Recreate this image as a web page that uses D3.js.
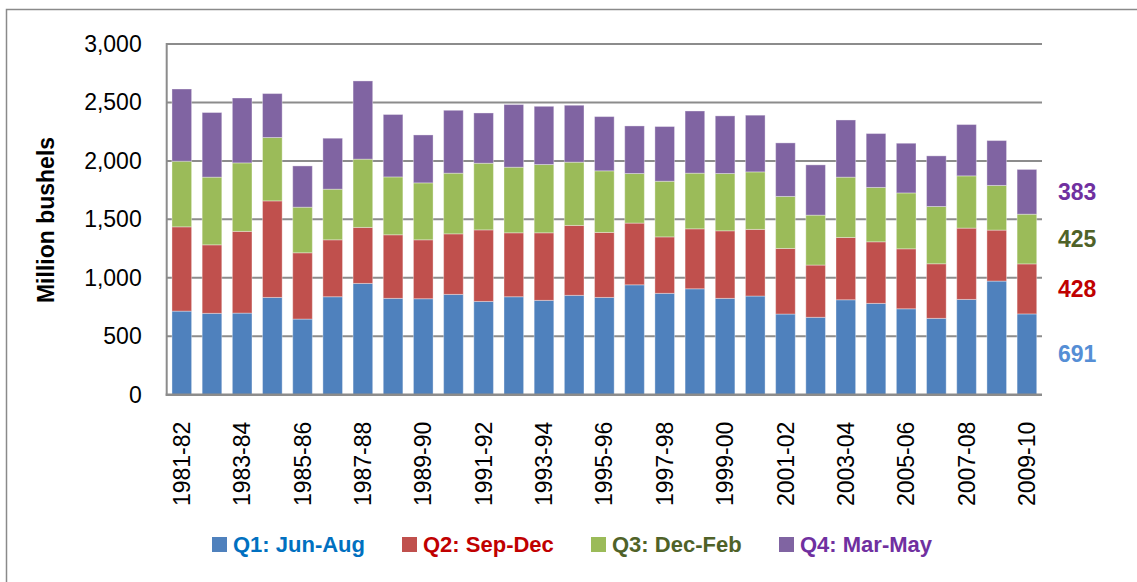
<!DOCTYPE html>
<html>
<head>
<meta charset="utf-8">
<script src="https://cdn.jsdelivr.net/npm/d3@7"></script>
<style>
  html, body { margin: 0; padding: 0; background: #fff; }
  svg { display: block; }
  text { font-family: "Liberation Sans", Arial, sans-serif; }
</style>
</head>
<body>
<svg id="chart" width="1137" height="582"></svg>
<script>
const categories = ["1981-82","1982-83","1983-84","1984-85","1985-86","1986-87","1987-88","1988-89","1989-90","1990-91",
  "1991-92","1992-93","1993-94","1994-95","1995-96","1996-97","1997-98","1998-99","1999-00","2000-01",
  "2001-02","2002-03","2003-04","2004-05","2005-06","2006-07","2007-08","2008-09","2009-10"];
const q1 = [715,696,698,832,647,838,952,824,821,858,798,838,807,850,832,940,867,906,824,844,690,662,812,781,735,653,815,972,691];
const q2 = [721,586,699,826,567,487,479,544,504,518,612,547,578,598,556,528,483,513,578,570,561,447,533,527,513,467,610,436,428];
const q3 = [561,579,586,542,390,433,584,495,487,519,570,561,584,541,527,424,476,476,490,492,445,427,516,465,478,490,447,382,425];
const q4 = [618,553,555,376,353,436,669,534,410,538,430,536,498,487,464,407,468,532,493,485,458,430,489,461,425,433,439,384,383];
const seriesNames = ["Q1: Jun-Aug","Q2: Sep-Dec","Q3: Dec-Feb","Q4: Mar-May"];
const seriesKeys = ["q1","q2","q3","q4"];
const yTicks = [0,500,1000,1500,2000,2500,3000];

const barColors = ["#4F81BD","#C0504D","#9BBB59","#8064A2"];
const legendTextColors = ["#0070C0","#C00000","#4F6228","#7030A0"];
const endLabelColors = ["#558ED5","#C00000","#4F6228","#7030A0"];

const svg = d3.select("#chart");
const margin = {left: 166.7, right: 1042, top: 44, bottom: 394.7};

// outer frame (top-left visible)
svg.append("rect").attr("x", 6.5).attr("y", 9.5).attr("width", 1200).attr("height", 700)
  .attr("fill", "none").attr("stroke", "#8a8a8a").attr("stroke-width", 1.5);

const rows = categories.map((c, i) => ({cat: c, q1: q1[i], q2: q2[i], q3: q3[i], q4: q4[i]}));
const stack = d3.stack().keys(seriesKeys)(rows);

const x = d3.scaleBand().domain(categories).range([margin.left, margin.right]).paddingInner(0.35).paddingOuter(0.175);
const y = d3.scaleLinear().domain([0, 3000]).range([margin.bottom, margin.top]);

// gridlines
svg.append("g").selectAll("line").data(yTicks.filter(d => d > 0)).join("line")
  .attr("x1", margin.left).attr("x2", margin.right)
  .attr("y1", d => y(d)).attr("y2", d => y(d))
  .attr("stroke", "#8c8c8c").attr("stroke-width", 2);

// bars
svg.append("g").selectAll("g").data(stack).join("g")
  .attr("fill", (d, i) => barColors[i])
  .selectAll("rect").data(d => d).join("rect")
  .attr("x", d => x(d.data.cat))
  .attr("width", x.bandwidth())
  .attr("y", d => y(d[1]))
  .attr("height", d => y(d[0]) - y(d[1]))
  .attr("stroke", "#ffffff").attr("stroke-opacity", 0.35).attr("stroke-width", 1);

// axes lines
svg.append("line").attr("x1", margin.left).attr("x2", margin.left).attr("y1", margin.top - 1).attr("y2", margin.bottom + 1)
  .attr("stroke", "#8c8c8c").attr("stroke-width", 2);
svg.append("line").attr("x1", margin.left - 1).attr("x2", margin.right).attr("y1", margin.bottom).attr("y2", margin.bottom)
  .attr("stroke", "#8c8c8c").attr("stroke-width", 2.5);

// y axis labels
const yAxis = d3.axisLeft(y).tickValues(yTicks).tickFormat(d3.format(",")).tickSize(0).tickPadding(25);
const gy = svg.append("g").attr("transform", `translate(${margin.left},0)`).call(yAxis);
gy.select(".domain").remove();
gy.selectAll("text").attr("font-size", 23).attr("fill", "#000")
  .style("font-family", "'Liberation Sans', Arial, sans-serif");

// x axis labels (every other)
const xAxis = d3.axisBottom(x).tickValues(categories.filter((d, i) => i % 2 === 0)).tickSize(0);
const gx = svg.append("g").attr("transform", `translate(0,${margin.bottom})`).call(xAxis);
gx.select(".domain").remove();
gx.selectAll("text")
  .attr("transform", "rotate(-90)")
  .attr("x", -27).attr("y", 0).attr("dy", "0.35em")
  .attr("text-anchor", "end")
  .attr("font-size", 23).attr("fill", "#000")
  .style("font-family", "'Liberation Sans', Arial, sans-serif");

// y title
svg.append("text").attr("transform", "translate(54,220) rotate(-90)")
  .attr("text-anchor", "middle").attr("font-size", 23).attr("font-weight", "bold")
  .text("Million bushels");

// end labels at last bar segment midpoints
const lastIdx = categories.length - 1;
svg.append("g").selectAll("text").data(stack).join("text")
  .attr("x", 1058)
  .attr("y", d => y((d[lastIdx][0] + d[lastIdx][1]) / 2))
  .attr("dy", "0.35em")
  .attr("font-size", 23).attr("font-weight", "bold")
  .attr("fill", (d, i) => endLabelColors[i])
  .text(d => d[lastIdx].data[d.key]);

// legend
const legendX = [212, 402, 591, 779];
const lg = svg.append("g").selectAll("g").data(seriesNames).join("g")
  .attr("transform", (d, i) => `translate(${legendX[i]},537)`);
lg.append("rect").attr("width", 15).attr("height", 15).attr("fill", (d, i) => barColors[i]);
lg.append("text").attr("x", 21).attr("y", 7.5).attr("dy", "0.36em")
  .attr("font-size", 22).attr("font-weight", "bold")
  .attr("fill", (d, i) => legendTextColors[i])
  .text(d => d);
</script>
</body>
</html>
